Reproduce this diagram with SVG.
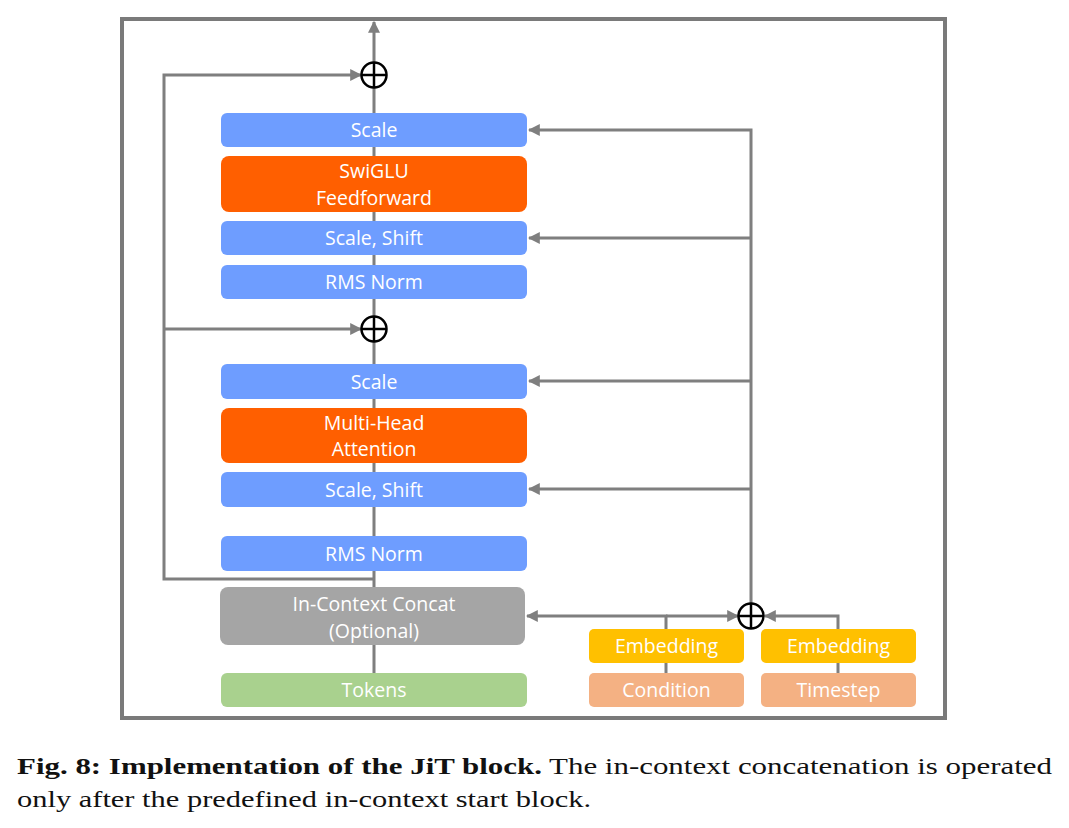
<svg xmlns="http://www.w3.org/2000/svg" width="1069" height="828" viewBox="0 0 1069 828">
<style>
.ln{fill:none;stroke:#7f7f7f;stroke-width:3}
.t{font-family:"Open Sans","Noto Sans",sans-serif;font-size:19.5px;fill:#fff;text-anchor:middle}
.blue{fill:#6e9dff}.org{fill:#ff5f00}.gry{fill:#a5a5a5}.grn{fill:#a9d18e}.yel{fill:#ffc000}.sal{fill:#f4b183}
.plus{fill:#fff;stroke:#000;stroke-width:2.5}
.cap{font-family:"Liberation Serif",serif;font-size:24px;fill:#111}
</style>
<defs>
<marker id="ah" viewBox="0 0 10 10" refX="9" refY="5" markerWidth="4" markerHeight="4" orient="auto" markerUnits="strokeWidth">
<path d="M0,0 L10,5 L0,10 z" fill="#7f7f7f"/>
</marker>
</defs>
<rect x="122" y="19" width="823" height="699" fill="none" stroke="#7a7a7a" stroke-width="4"/>
<g id="connectors">
<path class="ln" d="M374,673 V22" marker-end="url(#ah)"/>
<path class="ln" d="M374,579 H164 V75 H361" marker-end="url(#ah)"/>
<path class="ln" d="M164,329 H361" marker-end="url(#ah)"/>
<path class="ln" d="M751,603 V130 H529" marker-end="url(#ah)"/>
<path class="ln" d="M751,238 H529" marker-end="url(#ah)"/>
<path class="ln" d="M751,381 H529" marker-end="url(#ah)"/>
<path class="ln" d="M751,489 H529" marker-end="url(#ah)"/>
<path class="ln" d="M666,629 V616 H527" marker-end="url(#ah)"/>
<path class="ln" d="M666,616 H738" marker-end="url(#ah)"/>
<path class="ln" d="M838,629 V616 H765" marker-end="url(#ah)"/>
<path class="ln" d="M666,663 V673"/>
<path class="ln" d="M838,663 V673"/>
</g>
<g id="plus1"><circle class="plus" cx="374" cy="75" r="12.5"/><path d="M374,62.5 V87.5 M361.5,75 H386.5" stroke="#000" stroke-width="2.5"/></g>
<g id="plus2"><circle class="plus" cx="374" cy="329" r="12.5"/><path d="M374,316.5 V341.5 M361.5,329 H386.5" stroke="#000" stroke-width="2.5"/></g>
<g id="plus3"><circle class="plus" cx="751" cy="616" r="12.5"/><path d="M751,603.5 V628.5 M738.5,616 H763.5" stroke="#000" stroke-width="2.5"/></g>
<g id="scale2"><rect class="blue" x="221" y="113" width="306" height="34" rx="6"/><text class="t" x="374" y="137">Scale</text></g>
<g id="swiglu"><rect class="org" x="221" y="156" width="306" height="56" rx="8"/><text class="t" x="374" y="177.5">SwiGLU</text><text class="t" x="374" y="204.5">Feedforward</text></g>
<g id="scaleshift2"><rect class="blue" x="221" y="221" width="306" height="34" rx="6"/><text class="t" x="374" y="245">Scale, Shift</text></g>
<g id="rmsnorm2"><rect class="blue" x="221" y="265" width="306" height="34" rx="6"/><text class="t" x="374" y="289">RMS Norm</text></g>
<g id="scale1"><rect class="blue" x="221" y="364" width="306" height="35" rx="6"/><text class="t" x="374" y="388.5">Scale</text></g>
<g id="mha"><rect class="org" x="221" y="408" width="306" height="55" rx="8"/><text class="t" x="374" y="429.5">Multi-Head</text><text class="t" x="374" y="455.5">Attention</text></g>
<g id="scaleshift1"><rect class="blue" x="221" y="472" width="306" height="35" rx="6"/><text class="t" x="374" y="496.5">Scale, Shift</text></g>
<g id="rmsnorm1"><rect class="blue" x="221" y="536" width="306" height="35" rx="6"/><text class="t" x="374" y="560.5">RMS Norm</text></g>
<g id="concat"><rect class="gry" x="220" y="587" width="305" height="58" rx="8"/><text class="t" x="374" y="610.5">In-Context Concat</text><text class="t" x="374" y="637.5">(Optional)</text></g>
<g id="tokens"><rect class="grn" x="221" y="673" width="306" height="34" rx="6"/><text class="t" x="374" y="697">Tokens</text></g>
<g id="embcond"><rect class="yel" x="589" y="629" width="155" height="34" rx="5"/><text class="t" x="666.5" y="653">Embedding</text></g>
<g id="embtime"><rect class="yel" x="761" y="629" width="155" height="34" rx="5"/><text class="t" x="838.5" y="653">Embedding</text></g>
<g id="condition"><rect class="sal" x="589" y="673" width="155" height="34" rx="5"/><text class="t" x="666.5" y="697">Condition</text></g>
<g id="timestep"><rect class="sal" x="761" y="673" width="155" height="34" rx="5"/><text class="t" x="838.5" y="697">Timestep</text></g>
<g id="caption">
<text class="cap" x="17" y="774" textLength="1035" lengthAdjust="spacingAndGlyphs"><tspan font-weight="bold">Fig. 8: Implementation of the JiT block.</tspan> The in-context concatenation is operated</text>
<text class="cap" x="17" y="807" textLength="574" lengthAdjust="spacingAndGlyphs">only after the predefined in-context start block.</text>
</g>
</svg>
